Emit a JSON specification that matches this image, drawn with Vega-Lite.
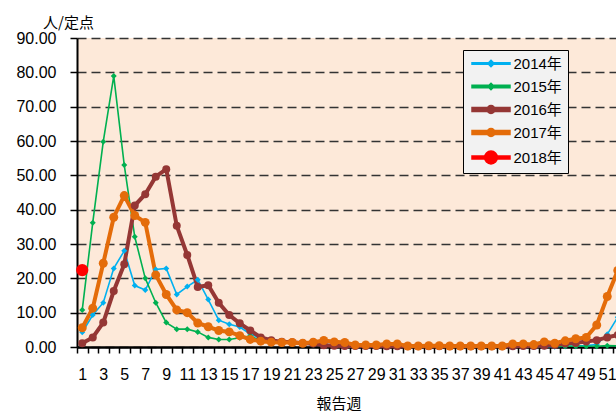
{
  "$schema": "https://vega.github.io/schema/vega-lite/v6.json",
  "width": 539,
  "height": 309,
  "autosize": "none",
  "padding": {"left": 77, "top": 38, "right": 0, "bottom": 67},
  "background": "white",
  "config": {
    "font": "Liberation Sans, Noto Sans CJK JP",
    "view": {"fill": "#FDE9D9", "stroke": null}
  },
  "data": {
    "values": [
      {"year": "2014年", "week": 1, "v": 4.3}, {"year": "2014年", "week": 2, "v": 9.3}, {"year": "2014年", "week": 3, "v": 12.9}, {"year": "2014年", "week": 4, "v": 22.9},
      {"year": "2014年", "week": 5, "v": 28.0}, {"year": "2014年", "week": 6, "v": 17.9}, {"year": "2014年", "week": 7, "v": 16.6}, {"year": "2014年", "week": 8, "v": 22.6},
      {"year": "2014年", "week": 9, "v": 22.9}, {"year": "2014年", "week": 10, "v": 15.3}, {"year": "2014年", "week": 11, "v": 17.6}, {"year": "2014年", "week": 12, "v": 19.6},
      {"year": "2014年", "week": 13, "v": 13.8}, {"year": "2014年", "week": 14, "v": 7.8}, {"year": "2014年", "week": 15, "v": 6.6}, {"year": "2014年", "week": 16, "v": 5.8},
      {"year": "2014年", "week": 17, "v": 3.8}, {"year": "2014年", "week": 18, "v": 2.5}, {"year": "2014年", "week": 19, "v": 1.8}, {"year": "2014年", "week": 20, "v": 1.3},
      {"year": "2014年", "week": 21, "v": 1.0}, {"year": "2014年", "week": 22, "v": 0.9}, {"year": "2014年", "week": 23, "v": 0.7}, {"year": "2014年", "week": 24, "v": 0.6},
      {"year": "2014年", "week": 25, "v": 0.5}, {"year": "2014年", "week": 26, "v": 0.4}, {"year": "2014年", "week": 27, "v": 0.3}, {"year": "2014年", "week": 28, "v": 0.2},
      {"year": "2014年", "week": 29, "v": 0.2}, {"year": "2014年", "week": 30, "v": 0.1}, {"year": "2014年", "week": 31, "v": 0.1}, {"year": "2014年", "week": 32, "v": 0.1},
      {"year": "2014年", "week": 33, "v": 0.1}, {"year": "2014年", "week": 34, "v": 0.1}, {"year": "2014年", "week": 35, "v": 0.1}, {"year": "2014年", "week": 36, "v": 0.1},
      {"year": "2014年", "week": 37, "v": 0.1}, {"year": "2014年", "week": 38, "v": 0.1}, {"year": "2014年", "week": 39, "v": 0.1}, {"year": "2014年", "week": 40, "v": 0.1},
      {"year": "2014年", "week": 41, "v": 0.1}, {"year": "2014年", "week": 42, "v": 0.1}, {"year": "2014年", "week": 43, "v": 0.1}, {"year": "2014年", "week": 44, "v": 0.1},
      {"year": "2014年", "week": 45, "v": 0.1}, {"year": "2014年", "week": 46, "v": 0.1}, {"year": "2014年", "week": 47, "v": 0.2}, {"year": "2014年", "week": 48, "v": 0.3},
      {"year": "2014年", "week": 49, "v": 0.4}, {"year": "2014年", "week": 50, "v": 0.7}, {"year": "2014年", "week": 51, "v": 3.7}, {"year": "2014年", "week": 52, "v": 8.7},

      {"year": "2015年", "week": 1, "v": 10.8}, {"year": "2015年", "week": 2, "v": 36.2}, {"year": "2015年", "week": 3, "v": 59.8}, {"year": "2015年", "week": 4, "v": 78.9},
      {"year": "2015年", "week": 5, "v": 53.0}, {"year": "2015年", "week": 6, "v": 32.1}, {"year": "2015年", "week": 7, "v": 20.0}, {"year": "2015年", "week": 8, "v": 12.9},
      {"year": "2015年", "week": 9, "v": 7.1}, {"year": "2015年", "week": 10, "v": 5.2}, {"year": "2015年", "week": 11, "v": 5.2}, {"year": "2015年", "week": 12, "v": 4.4},
      {"year": "2015年", "week": 13, "v": 2.8}, {"year": "2015年", "week": 14, "v": 2.2}, {"year": "2015年", "week": 15, "v": 2.2}, {"year": "2015年", "week": 16, "v": 2.7},
      {"year": "2015年", "week": 17, "v": 3.2}, {"year": "2015年", "week": 18, "v": 1.8}, {"year": "2015年", "week": 19, "v": 1.5}, {"year": "2015年", "week": 20, "v": 1.4},
      {"year": "2015年", "week": 21, "v": 1.4}, {"year": "2015年", "week": 22, "v": 1.4}, {"year": "2015年", "week": 23, "v": 1.1}, {"year": "2015年", "week": 24, "v": 0.8},
      {"year": "2015年", "week": 25, "v": 0.6}, {"year": "2015年", "week": 26, "v": 0.5}, {"year": "2015年", "week": 27, "v": 0.4}, {"year": "2015年", "week": 28, "v": 0.3},
      {"year": "2015年", "week": 29, "v": 0.3}, {"year": "2015年", "week": 30, "v": 0.3}, {"year": "2015年", "week": 31, "v": 0.3}, {"year": "2015年", "week": 32, "v": 0.3},
      {"year": "2015年", "week": 33, "v": 0.3}, {"year": "2015年", "week": 34, "v": 0.3}, {"year": "2015年", "week": 35, "v": 0.3}, {"year": "2015年", "week": 36, "v": 0.2},
      {"year": "2015年", "week": 37, "v": 0.2}, {"year": "2015年", "week": 38, "v": 0.2}, {"year": "2015年", "week": 39, "v": 0.2}, {"year": "2015年", "week": 40, "v": 0.2},
      {"year": "2015年", "week": 41, "v": 0.3}, {"year": "2015年", "week": 42, "v": 0.3}, {"year": "2015年", "week": 43, "v": 0.3}, {"year": "2015年", "week": 44, "v": 0.2},
      {"year": "2015年", "week": 45, "v": 0.2}, {"year": "2015年", "week": 46, "v": 0.2}, {"year": "2015年", "week": 47, "v": 0.2}, {"year": "2015年", "week": 48, "v": 0.2},
      {"year": "2015年", "week": 49, "v": 0.2}, {"year": "2015年", "week": 50, "v": 0.2}, {"year": "2015年", "week": 51, "v": 0.4}, {"year": "2015年", "week": 52, "v": 0.3},

      {"year": "2016年", "week": 1, "v": 1.1}, {"year": "2016年", "week": 2, "v": 2.8}, {"year": "2016年", "week": 3, "v": 7.1}, {"year": "2016年", "week": 4, "v": 16.3},
      {"year": "2016年", "week": 5, "v": 24.1}, {"year": "2016年", "week": 6, "v": 41.2}, {"year": "2016年", "week": 7, "v": 44.5}, {"year": "2016年", "week": 8, "v": 49.6},
      {"year": "2016年", "week": 9, "v": 51.8}, {"year": "2016年", "week": 10, "v": 35.3}, {"year": "2016年", "week": 11, "v": 26.8}, {"year": "2016年", "week": 12, "v": 17.5},
      {"year": "2016年", "week": 13, "v": 18.0}, {"year": "2016年", "week": 14, "v": 12.9}, {"year": "2016年", "week": 15, "v": 9.3}, {"year": "2016年", "week": 16, "v": 6.9},
      {"year": "2016年", "week": 17, "v": 4.8}, {"year": "2016年", "week": 18, "v": 2.8}, {"year": "2016年", "week": 19, "v": 2.0}, {"year": "2016年", "week": 20, "v": 1.5},
      {"year": "2016年", "week": 21, "v": 1.4}, {"year": "2016年", "week": 22, "v": 1.1}, {"year": "2016年", "week": 23, "v": 1.0}, {"year": "2016年", "week": 24, "v": 0.5},
      {"year": "2016年", "week": 25, "v": 0.4}, {"year": "2016年", "week": 26, "v": 0.3}, {"year": "2016年", "week": 27, "v": 0.3}, {"year": "2016年", "week": 28, "v": 0.3},
      {"year": "2016年", "week": 29, "v": 0.3}, {"year": "2016年", "week": 30, "v": 0.2}, {"year": "2016年", "week": 31, "v": 0.2}, {"year": "2016年", "week": 32, "v": 0.2},
      {"year": "2016年", "week": 33, "v": 0.2}, {"year": "2016年", "week": 34, "v": 0.2}, {"year": "2016年", "week": 35, "v": 0.2}, {"year": "2016年", "week": 36, "v": 0.2},
      {"year": "2016年", "week": 37, "v": 0.2}, {"year": "2016年", "week": 38, "v": 0.2}, {"year": "2016年", "week": 39, "v": 0.2}, {"year": "2016年", "week": 40, "v": 0.2},
      {"year": "2016年", "week": 41, "v": 0.2}, {"year": "2016年", "week": 42, "v": 0.2}, {"year": "2016年", "week": 43, "v": 0.3}, {"year": "2016年", "week": 44, "v": 0.3},
      {"year": "2016年", "week": 45, "v": 0.4}, {"year": "2016年", "week": 46, "v": 0.6}, {"year": "2016年", "week": 47, "v": 1.0}, {"year": "2016年", "week": 48, "v": 1.2},
      {"year": "2016年", "week": 49, "v": 1.6}, {"year": "2016年", "week": 50, "v": 2.0}, {"year": "2016年", "week": 51, "v": 2.8}, {"year": "2016年", "week": 52, "v": 3.5},

      {"year": "2017年", "week": 1, "v": 5.6}, {"year": "2017年", "week": 2, "v": 11.3}, {"year": "2017年", "week": 3, "v": 24.4}, {"year": "2017年", "week": 4, "v": 37.8},
      {"year": "2017年", "week": 5, "v": 44.1}, {"year": "2017年", "week": 6, "v": 38.3}, {"year": "2017年", "week": 7, "v": 36.3}, {"year": "2017年", "week": 8, "v": 21.0},
      {"year": "2017年", "week": 9, "v": 15.3}, {"year": "2017年", "week": 10, "v": 10.8}, {"year": "2017年", "week": 11, "v": 10.0}, {"year": "2017年", "week": 12, "v": 7.0},
      {"year": "2017年", "week": 13, "v": 5.9}, {"year": "2017年", "week": 14, "v": 4.8}, {"year": "2017年", "week": 15, "v": 4.4}, {"year": "2017年", "week": 16, "v": 3.3},
      {"year": "2017年", "week": 17, "v": 2.2}, {"year": "2017年", "week": 18, "v": 1.7}, {"year": "2017年", "week": 19, "v": 1.4}, {"year": "2017年", "week": 20, "v": 1.3},
      {"year": "2017年", "week": 21, "v": 1.3}, {"year": "2017年", "week": 22, "v": 1.1}, {"year": "2017年", "week": 23, "v": 1.4}, {"year": "2017年", "week": 24, "v": 1.9},
      {"year": "2017年", "week": 25, "v": 1.5}, {"year": "2017年", "week": 26, "v": 1.3}, {"year": "2017年", "week": 27, "v": 0.6}, {"year": "2017年", "week": 28, "v": 0.6},
      {"year": "2017年", "week": 29, "v": 0.6}, {"year": "2017年", "week": 30, "v": 0.9}, {"year": "2017年", "week": 31, "v": 0.9}, {"year": "2017年", "week": 32, "v": 0.3},
      {"year": "2017年", "week": 33, "v": 0.3}, {"year": "2017年", "week": 34, "v": 0.4}, {"year": "2017年", "week": 35, "v": 0.4}, {"year": "2017年", "week": 36, "v": 0.3},
      {"year": "2017年", "week": 37, "v": 0.3}, {"year": "2017年", "week": 38, "v": 0.3}, {"year": "2017年", "week": 39, "v": 0.3}, {"year": "2017年", "week": 40, "v": 0.3},
      {"year": "2017年", "week": 41, "v": 0.3}, {"year": "2017年", "week": 42, "v": 0.9}, {"year": "2017年", "week": 43, "v": 0.9}, {"year": "2017年", "week": 44, "v": 0.7},
      {"year": "2017年", "week": 45, "v": 1.5}, {"year": "2017年", "week": 46, "v": 1.1}, {"year": "2017年", "week": 47, "v": 1.8}, {"year": "2017年", "week": 48, "v": 2.4},
      {"year": "2017年", "week": 49, "v": 2.8}, {"year": "2017年", "week": 50, "v": 6.4}, {"year": "2017年", "week": 51, "v": 14.7}, {"year": "2017年", "week": 52, "v": 22.3},

      {"year": "2018年", "week": 1, "v": 22.4}
    ]
  },
  "encoding": {
    "x": {
      "field": "week",
      "type": "ordinal",
      "bandPosition": 0.5,
      "scale": {
        "type": "band",
        "domain": [1,2,3,4,5,6,7,8,9,10,11,12,13,14,15,16,17,18,19,20,21,22,23,24,25,26,27,28,29,30,31,32,33,34,35,36,37,38,39,40,41,42,43,44,45,46,47,48,49,50,51,52],
        "range": [0, 546],
        "paddingInner": 0,
        "paddingOuter": 0
      },
      "axis": {
        "title": "報告週",
        "titleFont": "Noto Sans CJK JP",
        "titleFontSize": 15,
        "titleFontWeight": "normal",
        "titleColor": "black",
        "titleX": 261.5,
        "titleY": 56,
        "titleAlign": "center",
        "titleBaseline": "middle",
        "labelAngle": 0,
        "labelFontSize": 16,
        "labelColor": "black",
        "labelPadding": 13,
        "labelOverlap": false,
        "labelExpr": "datum.value % 2 == 1 ? datum.label : ''",
        "tickBand": "extent",
        "tickSize": 6,
        "tickColor": "black",
        "tickWidth": 1.5,
        "domainColor": "black",
        "domainWidth": 2.5,
        "grid": false
      }
    },
    "y": {
      "field": "v",
      "type": "quantitative",
      "scale": {"domain": [0, 90], "nice": false},
      "axis": {
        "title": "人/定点",
        "titleFont": "Noto Sans CJK JP",
        "titleFontSize": 15,
        "titleFontWeight": "normal",
        "titleColor": "black",
        "titleAngle": 0,
        "titleX": -9,
        "titleY": -16,
        "titleAlign": "center",
        "titleBaseline": "middle",
        "values": [0, 10, 20, 30, 40, 50, 60, 70, 80, 90],
        "format": ".2f",
        "labelFontSize": 16,
        "labelColor": "black",
        "labelPadding": 14,
        "tickSize": 7,
        "tickColor": "black",
        "tickWidth": 1.5,
        "domainColor": "black",
        "domainWidth": 2,
        "grid": true,
        "gridColor": "#333333",
        "gridDash": [9, 5],
        "gridWidth": 1.3
      }
    },
    "color": {
      "field": "year",
      "type": "nominal",
      "scale": {
        "domain": ["2014年", "2015年", "2016年", "2017年", "2018年"],
        "range": ["#00B0F0", "#00B050", "#953735", "#E46C0A", "#FF0000"]
      },
      "legend": {
        "title": null,
        "orient": "none",
        "legendX": 386,
        "legendY": 12,
        "padding": 6,
        "rowPadding": 7,
        "fillColor": "#F2F2F2",
        "strokeColor": "black",
        "labelFont": "Liberation Sans, Noto Sans CJK JP",
        "labelFontSize": 15,
        "labelColor": "black",
        "symbolSize": 64,
        "symbolOffset": 14.5,
        "labelOffset": 15,
        "symbolType": "M-4.75,-0.2H4.75V0.2H-4.75Z",
        "encode": {
          "symbols": {
            "update": {
              "shape": {"signal": "datum.value == '2018年' ? 'M-4.75,-0.4H4.75V0.4H-4.75ZM-1.6,0A1.6,1.6,0,1,1,1.6,0A1.6,1.6,0,1,1,-1.6,0Z' : datum.value == '2014年' ? 'M-4.75,-0.19H4.75V0.19H-4.75ZM0,-0.8L0.8,0L0,0.8L-0.8,0Z' : datum.value == '2015年' ? 'M-4.75,-0.3H4.75V0.3H-4.75ZM0,-0.8L0.8,0L0,0.8L-0.8,0Z' : 'M-4.75,-0.5H4.75V0.5H-4.75ZM-1,0A1,1,0,1,1,1,0A1,1,0,1,1,-1,0Z'"},
              "fill": {"signal": "scale('color', datum.value)"},
              "opacity": {"value": 1}
            }
          }
        }
      }
    }
  },
  "layer": [
    {
      "mark": {"type": "line"},
      "encoding": {
        "strokeWidth": {
          "condition": {"test": "datum.year == '2016年' || datum.year == '2017年'", "value": 4},
          "value": 1.6
        }
      }
    },
    {
      "mark": {"type": "point", "filled": true, "opacity": 1},
      "encoding": {
        "shape": {
          "condition": {"test": "datum.year == '2014年' || datum.year == '2015年'", "value": "diamond"},
          "value": "circle"
        },
        "size": {
          "condition": [
            {"test": "datum.year == '2018年'", "value": 150},
            {"test": "datum.year == '2017年'", "value": 80},
            {"test": "datum.year == '2016年'", "value": 64}
          ],
          "value": 36
        }
      }
    }
  ]
}
